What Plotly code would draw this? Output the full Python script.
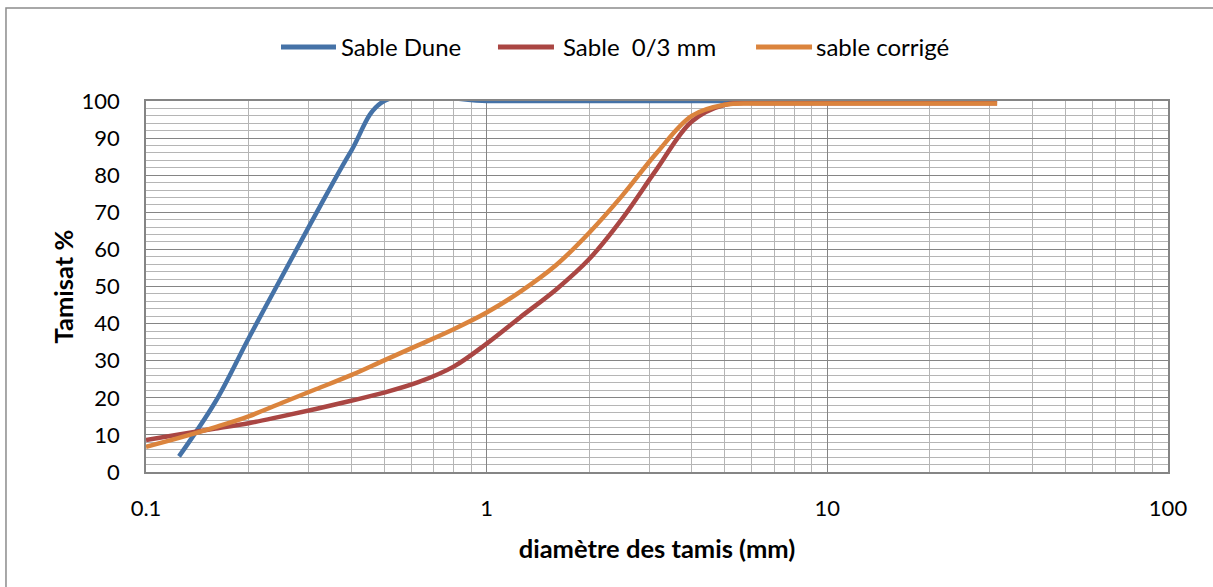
import plotly.graph_objects as go

# Sieve sizes (mm)
sieves = [0.1, 0.125, 0.16, 0.2, 0.25, 0.315, 0.4, 0.5, 0.63, 0.8, 1, 1.25, 1.6,
          2, 2.5, 3.15, 4, 5, 6.3, 8, 10, 12.5, 16, 20, 25, 31.5]

dune_sieves = [0.125, 0.16, 0.2, 0.25, 0.315, 0.4, 0.5, 1, 1.25, 1.6, 2, 2.5, 3.15,
               4, 5, 6.3, 8, 10, 12.5, 16, 20, 25, 31.5]
sable_dune = [4.2, 19.0, 36.0, 52.5, 69.5, 86.5, 100, 100, 100, 100, 100, 100, 100,
              100, 100, 100, 100, 100, 100, 100, 100, 100, 100]
sable_03 = [8.6, 10.1, 11.7, 13.15, 15.0, 17.0, 19.2, 21.4, 24.2, 28.4, 34.6, 41.6,
            49.2, 57.4, 68.3, 81.5, 94.5, 99.0, 99.4, 99.4, 99.4, 99.4, 99.4, 99.4, 99.4, 99.4]
sable_corrige = [6.8, 9.2, 12.1, 15.0, 18.6, 22.3, 26.1, 30.1, 34.2, 38.5, 43.0, 48.5,
                 55.8, 64.5, 74.5, 85.9, 96.0, 99.0, 99.3, 99.3, 99.3, 99.3, 99.3, 99.3, 99.3, 99.3]

names = ["Sable Dune", "Sable  0/3 mm", "sable corrigé"]
colors = ["#4572A7", "#AA4643", "#DB843D"]

x_ticks = [0.1, 1, 10, 100]
x_ticktext = ["0.1", "1", "10", "100"]
y_ticks = list(range(0, 101, 10))

FONT = "Lato"

fig = go.Figure()
for xs, ys, nm, col in [(dune_sieves, sable_dune, names[0], colors[0]),
                        (sieves, sable_03, names[1], colors[1]),
                        (sieves, sable_corrige, names[2], colors[2])]:
    fig.add_trace(go.Scatter(x=xs, y=ys, mode="lines", name=nm, showlegend=False,
                             line=dict(color=col, width=4.5, shape="spline", smoothing=1.0)))

major = "#858585"
minor_c = "#b5b5b5"

fig.update_layout(
    width=1213, height=587,
    margin=dict(l=146, r=45, t=101, b=115, autoexpand=False),
    paper_bgcolor="white", plot_bgcolor="white",
    font=dict(family=FONT, size=22, color="black"),
    showlegend=False,
    xaxis=dict(
        type="log", range=[-1, 2], tickvals=x_ticks, ticktext=x_ticktext,
        showgrid=True, gridcolor=major, gridwidth=1,
        showline=True, linecolor=major, linewidth=1.5, mirror=True,
        ticks="", ticklabelstandoff=16, automargin=False,
        minor=dict(showgrid=True, gridcolor=minor_c, gridwidth=1, dtick="D1"),
        title=dict(text="<b>diamètre des tamis (mm)</b>", standoff=20,
                   font=dict(family=FONT, size=25.5)),
        zeroline=False,
    ),
    yaxis=dict(
        range=[0, 100], tickvals=y_ticks,
        showgrid=True, gridcolor=major, gridwidth=1,
        showline=True, linecolor=major, linewidth=1.5, mirror=True,
        ticks="", ticklabelstandoff=20, automargin=False,
        minor=dict(showgrid=True, gridcolor=minor_c, gridwidth=1, dtick=2),
        title=dict(text="<b>Tamisat %</b>", standoff=1, font=dict(family=FONT, size=25.5)),
        zeroline=False,
    ),
)

# Outer chart border
fig.add_shape(type="rect", xref="paper", yref="paper",
              x0=-0.137, x1=1.06, y0=-0.35, y1=1.2507,
              line=dict(color="#8c8c8c", width=1.5), fillcolor="rgba(0,0,0,0)", layer="below")

# Legend drawn at the top, centred (paper coordinates)
leg_y = 1.1456
leg_items = [(0.1321, 0.1859, 0.1890), (0.3444, 0.3992, 0.4060), (0.5969, 0.6517, 0.6536)]
for (lx0, lx1, tx), nm, col in zip(leg_items, names, colors):
    fig.add_shape(type="line", xref="paper", yref="paper", x0=lx0, x1=lx1, y0=leg_y, y1=leg_y,
                  line=dict(color=col, width=5))
    fig.add_annotation(xref="paper", yref="paper", x=tx, y=leg_y, text=nm, showarrow=False,
                       xanchor="left", yanchor="middle", font=dict(family=FONT, size=24, color="black"))

fig.write_html("out.html")
